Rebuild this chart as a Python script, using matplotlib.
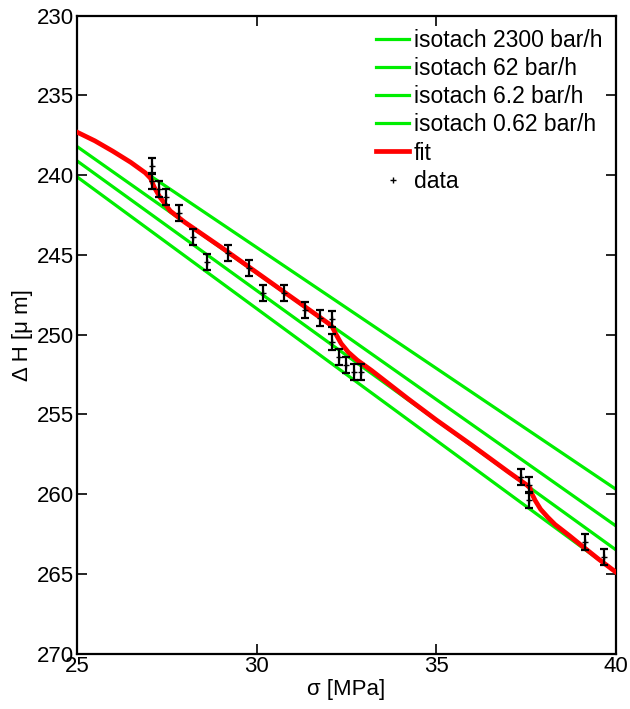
import numpy as np
import matplotlib
matplotlib.use("Agg")
from matplotlib import pyplot as plt

plt.rcParams['font.family'] = ['Liberation Sans', 'DejaVu Sans']

# isotach lines: (sigma start, dH start, sigma end, dH end)
iso_labels = ["isotach 2300 bar/h", "isotach 62 bar/h", "isotach 6.2 bar/h", "isotach 0.62 bar/h"]
iso_x = [[27.08, 40.0], [25.0, 40.0], [25.0, 40.0], [25.0, 40.0]]
iso_y = [[240.1, 259.7], [238.2, 262.0], [239.1, 263.5], [240.1, 264.9]]

# fitted curve
fit_x = [25.0, 25.5, 26.0, 26.5, 26.9, 27.05, 27.15, 27.3, 27.6, 28.0, 29.0, 30.0, 31.0, 32.0,
         32.1, 32.2, 32.35, 32.55, 32.8, 33.2, 33.6, 34.2, 35.0, 36.0, 37.0, 37.5, 37.6,
         37.65, 37.75, 37.9, 38.1, 38.3, 38.7, 39.0, 39.5, 40.0]
fit_y = [237.3, 237.85, 238.5, 239.2, 239.85, 240.2, 240.75, 241.35, 242.25, 242.95, 244.5, 246.1, 247.7, 249.3,
         249.5, 249.95, 250.55, 251.1, 251.6, 252.25, 252.95, 254.0, 255.35, 256.95, 258.6, 259.4, 259.6,
         259.95, 260.4, 260.95, 261.45, 261.9, 262.6, 263.15, 264.05, 264.9]

# measurements
data_x = [27.08, 27.08, 27.29, 27.48, 27.85, 28.24, 28.63, 29.20, 29.79, 30.19, 30.75, 31.35, 31.75,
          32.09, 32.09, 32.30, 32.49, 32.70, 32.90, 37.36, 37.57, 37.57, 39.12, 39.67]
data_y = [239.4, 240.35, 240.85, 241.35, 242.35, 243.9, 245.45, 244.9, 245.8, 247.4, 247.4, 248.45, 248.95,
          249.0, 250.45, 251.4, 251.9, 252.35, 252.35, 258.95, 259.45, 260.35, 263.0, 263.95]
data_err = 0.5

fig = plt.figure(figsize=(6.3, 7.09), dpi=100)
ax = fig.add_axes([0.122, 0.078, 0.856, 0.9])

for i in range(4):
    ax.plot(iso_x[i], iso_y[i], color="#00ee00", lw=2.3, label=iso_labels[i], zorder=2)
ax.plot(fit_x, fit_y, color="#ff0000", lw=3.4, label="fit", zorder=3)
ax.errorbar(data_x, data_y, yerr=data_err, fmt="none", ecolor="black", elinewidth=1.6,
            capsize=3, capthick=1.6, zorder=4)
ax.plot(data_x, data_y, "+", color="black", ms=4, mew=1, label="data", zorder=5)

ax.set_xlim(25, 40)
ax.set_ylim(270, 230)
ax.set_xticks([25, 30, 35, 40])
ax.set_yticks(np.arange(230, 271, 5))
ax.tick_params(direction="in", top=True, right=True, length=7, width=1.2, labelsize=16, pad=2)
for s in ax.spines.values():
    s.set_linewidth(1.6)

ax.set_xlabel("σ [MPa]", fontsize=16, labelpad=1)
ax.set_ylabel("Δ H [μ m]", fontsize=16, labelpad=3)

ax.legend(loc="upper right", frameon=False, fontsize=16.5, handlelength=1.45, handletextpad=0.2,
          labelspacing=0.22, borderaxespad=0.35, borderpad=0.25)

fig.savefig("out.png", dpi=100)
